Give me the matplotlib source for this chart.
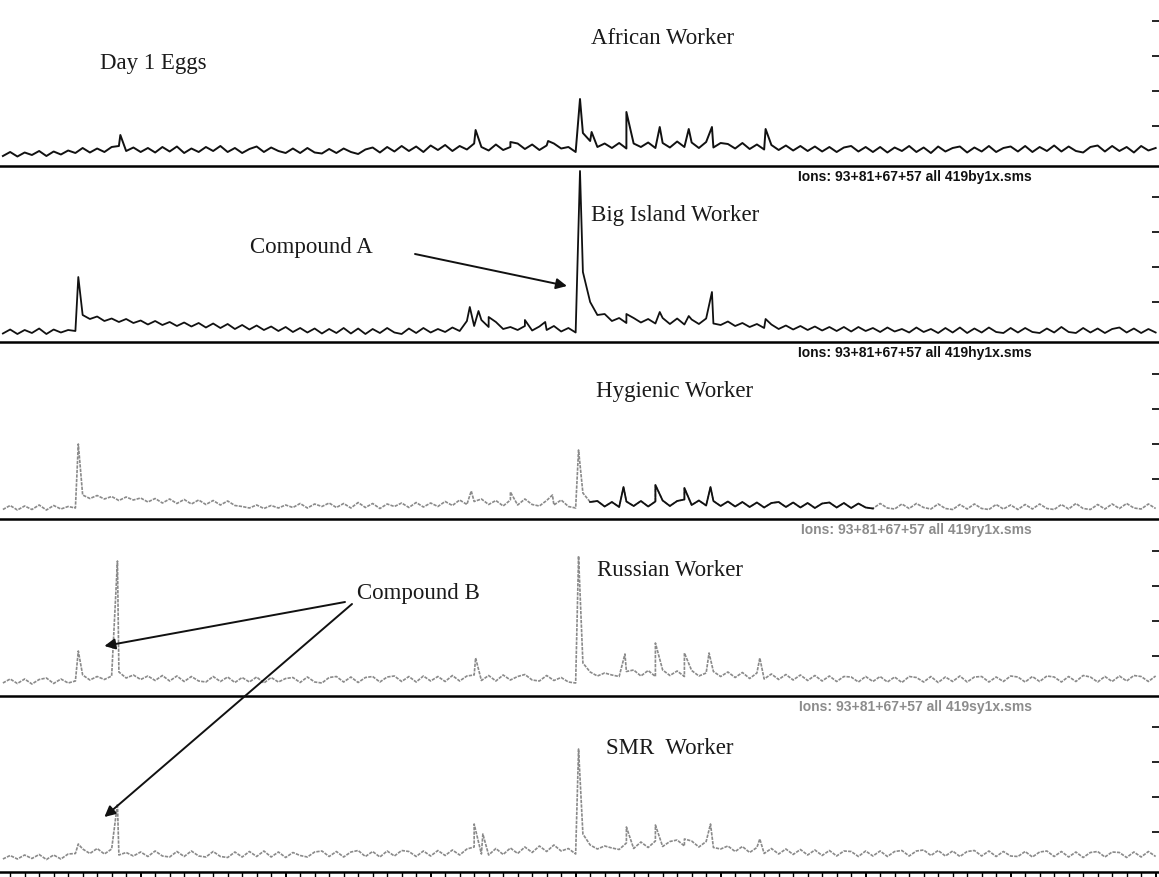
import numpy as np
import matplotlib
matplotlib.use('Agg')
import matplotlib.pyplot as plt

plt.rcParams['font.family'] = ['Liberation Serif', 'DejaVu Serif']

# retention time grid (min) for the baseline readings
rt_start = 4.05
rt_step = 0.05
n_pts = 160

# ---- African worker ----
african_base = [
    100, 140, 95, 135, 110, 150, 100, 145, 115, 155, 130, 180, 135, 175, 140, 190, 200, 150, 185, 140,
    180, 135, 190, 145, 195, 130, 175, 140, 190, 150, 200, 140, 180, 130, 170, 195, 140, 185, 150, 130,
    175, 130, 180, 135, 125, 170, 130, 175, 140, 120, 165, 185, 135, 190, 145, 200, 150, 195, 140, 205,
    160, 210, 150, 200, 165, 225, 190, 155, 215, 160, 190, 225, 170, 215, 160, 205, 225, 175, 190, 140,
    330, 250, 190, 225, 180, 230, 175, 225, 190, 235, 180, 230, 185, 245, 190, 235, 180, 240, 185, 230,
    220, 175, 230, 170, 215, 165, 210, 160, 205, 155, 200, 150, 195, 145, 190, 140, 185, 200, 145, 190,
    140, 190, 135, 185, 150, 200, 140, 185, 130, 195, 145, 180, 195, 135, 185, 145, 200, 140, 180, 195,
    145, 200, 140, 190, 150, 205, 145, 195, 150, 135, 190, 205, 145, 200, 150, 190, 135, 200, 155, 180]
african_peak_rt = [4.86, 7.31, 7.55, 7.81, 8.03, 8.11, 8.35, 8.58, 8.78, 8.94, 9.31]
african_peak_h = [310, 360, 240, 250, 670, 340, 540, 390, 370, 390, 370]

# ---- Big Island worker ----
bigisland_base = [
    85, 125, 80, 120, 90, 135, 80, 125, 95, 120, 110, 270, 230, 255, 210, 235, 200, 230, 190, 215,
    175, 210, 170, 200, 160, 195, 155, 190, 145, 185, 140, 180, 130, 170, 125, 165, 120, 155, 110, 150,
    100, 140, 95, 135, 85, 130, 90, 140, 85, 135, 80, 130, 90, 140, 95, 80, 135, 90, 140, 95,
    130, 100, 145, 110, 210, 160, 220, 150, 200, 130, 150, 120, 160, 115, 155, 120, 160, 105, 140, 95,
    700, 400, 270, 280, 210, 240, 190, 240, 195, 230, 185, 240, 180, 235, 175, 225, 180, 235, 185, 170,
    205, 160, 190, 150, 180, 140, 175, 130, 165, 125, 160, 120, 155, 115, 150, 110, 150, 105, 150, 110,
    140, 100, 145, 105, 130, 95, 145, 100, 130, 90, 140, 95, 145, 90, 135, 95, 145, 100, 90, 140,
    95, 140, 100, 90, 135, 95, 150, 100, 90, 140, 95, 135, 90, 130, 145, 95, 135, 90, 130, 95]
bigisland_peak_rt = [4.57, 7.27, 7.33, 7.40, 7.65, 7.79, 8.03, 8.15, 8.35, 8.58, 8.78, 8.94, 9.31]
bigisland_peak_h = [650, 350, 310, 250, 220, 200, 1710, 270, 280, 300, 260, 500, 230]

# ---- Hygienic worker ----
hygienic_base = [
    95, 135, 90, 130, 95, 140, 90, 135, 100, 125, 110, 240, 205, 235, 200, 225, 185, 220, 190, 210,
    170, 205, 160, 200, 155, 195, 150, 190, 145, 185, 140, 180, 135, 125, 110, 140, 105, 135, 110, 140,
    115, 155, 110, 150, 125, 160, 115, 155, 110, 165, 115, 155, 105, 150, 125, 160, 115, 165, 120, 160,
    125, 175, 135, 190, 145, 175, 200, 145, 185, 130, 190, 140, 200, 145, 130, 185, 140, 190, 125, 110,
    260, 170, 180, 125, 170, 120, 175, 130, 180, 125, 175, 185, 130, 180, 195, 140, 185, 135, 180, 130,
    175, 125, 170, 120, 165, 115, 160, 170, 120, 165, 115, 160, 110, 155, 165, 115, 160, 110, 155, 115,
    105, 155, 110, 100, 150, 105, 155, 115, 100, 150, 105, 95, 145, 100, 150, 105, 95, 145, 100, 140,
    95, 145, 100, 150, 105, 95, 145, 100, 155, 105, 95, 145, 100, 150, 105, 155, 110, 100, 150, 105]
hygienic_peak_rt = [4.57, 7.28, 7.55, 7.84, 8.02, 8.33, 8.55, 8.75, 8.93]
hygienic_peak_h = [750, 280, 270, 240, 690, 320, 340, 310, 320]
hygienic_dark_rt = (8.10, 10.10)   # part of the trace printed dark

# ---- Russian worker ----
russian_base = [
    130, 170, 125, 170, 120, 165, 180, 125, 170, 130, 150, 210, 160, 195, 165, 200, 240, 180, 210, 165,
    200, 155, 205, 150, 200, 145, 195, 150, 140, 195, 145, 190, 135, 185, 140, 190, 130, 185, 140, 175,
    185, 135, 190, 140, 130, 185, 195, 140, 190, 135, 185, 195, 140, 190, 200, 145, 195, 140, 200, 150,
    195, 145, 205, 150, 200, 210, 155, 205, 150, 210, 160, 195, 215, 160, 150, 205, 155, 185, 140, 130,
    330, 240, 200, 230, 210, 195, 245, 260, 200, 255, 195, 260, 205, 250, 195, 255, 200, 230, 245, 195,
    240, 185, 235, 175, 230, 170, 220, 165, 215, 160, 210, 155, 205, 150, 200, 145, 195, 190, 140, 195,
    145, 195, 140, 190, 135, 195, 185, 140, 195, 135, 190, 145, 200, 140, 190, 195, 140, 190, 145, 200,
    190, 140, 195, 145, 200, 190, 140, 195, 145, 205, 190, 140, 195, 145, 200, 150, 205, 195, 145, 200]
russian_peak_rt = [4.57, 4.84, 7.31, 8.02, 8.34, 8.55, 8.75, 8.92, 9.27]
russian_peak_h = [450, 1350, 380, 1400, 420, 530, 430, 430, 380]

# ---- SMR worker ----
smr_base = [
    130, 165, 130, 170, 135, 175, 125, 170, 130, 180, 185, 230, 185, 235, 180, 230, 170, 195, 160, 200,
    155, 210, 160, 150, 205, 155, 210, 160, 150, 205, 155, 145, 200, 150, 205, 155, 210, 150, 200, 145,
    195, 165, 150, 200, 210, 155, 205, 150, 200, 215, 155, 205, 150, 210, 160, 215, 205, 155, 210, 160,
    215, 165, 220, 170, 230, 250, 180, 170, 235, 175, 240, 185, 250, 195, 260, 205, 270, 210, 235, 180,
    380, 270, 230, 260, 240, 225, 290, 235, 300, 245, 310, 255, 305, 320, 260, 310, 250, 305, 245, 230,
    260, 205, 255, 195, 245, 185, 235, 180, 230, 175, 225, 170, 220, 165, 215, 160, 210, 205, 155, 210,
    160, 210, 155, 205, 215, 160, 210, 220, 165, 215, 160, 210, 155, 205, 215, 160, 210, 155, 205, 160,
    155, 205, 150, 200, 210, 155, 205, 150, 200, 145, 195, 205, 150, 200, 195, 145, 200, 150, 205, 155]
smr_peak_rt = [4.57, 4.84, 7.30, 7.36, 8.02, 8.35, 8.55, 8.75, 8.93, 9.27]
smr_peak_h = [280, 680, 480, 380, 1230, 450, 470, 330, 480, 330]

titles = ['African Worker', 'Big Island Worker', 'Hygienic Worker', 'Russian Worker', 'SMR  Worker']
ion_files = ['Ions: 93+81+67+57 all 419by1x.sms', 'Ions: 93+81+67+57 all 419hy1x.sms',
             'Ions: 93+81+67+57 all 419ry1x.sms', 'Ions: 93+81+67+57 all 419sy1x.sms']
compound_a_rt, compound_b_rt = 8.03, 4.84

rt = rt_start + rt_step * np.arange(n_pts)


def trace(base, peak_rt, peak_h):
    t = np.concatenate([rt, peak_rt])
    y = np.concatenate([base, peak_h])
    order = np.argsort(t, kind='stable')
    return t[order], y[order]


W, H = 1159, 878
fig = plt.figure(figsize=(W / 100, H / 100), dpi=100)

panel_h = 176
lines_y = [167, 343, 520, 697, 873]   # pixel row of each panel's base line
axes = []
for ly in lines_y:
    ax = fig.add_axes([0, (H - ly) / H, 1, panel_h / H])
    ax.set_xlim(4.03, 4.03 + W / 145)
    ax.set_ylim(0, 1760)
    for s in ['top', 'left', 'right']:
        ax.spines[s].set_visible(False)
    ax.spines['bottom'].set_linewidth(1.8)
    ax.yaxis.tick_right()
    ax.set_yticks([400, 750, 1100, 1450])
    ax.tick_params(axis='y', direction='in', length=5, width=1.2, labelright=False, pad=0)
    ax.set_xticks([])
    ax.patch.set_alpha(0)
    axes.append(ax)

black = '#111111'
gray = '#8a8a8a'
speckle = (0, (2, 0.7))

t, y = trace(african_base, african_peak_rt, african_peak_h)
axes[0].plot(t, y, color=black, lw=1.4)

t, y = trace(bigisland_base, bigisland_peak_rt, bigisland_peak_h)
axes[1].plot(t, y, color=black, lw=1.3)

t, y = trace(hygienic_base, hygienic_peak_rt, hygienic_peak_h)
axes[2].plot(t, y, color=gray, lw=1.2, ls=speckle)
dark = np.ma.masked_where((t < hygienic_dark_rt[0]) | (t > hygienic_dark_rt[1]), y)
axes[2].plot(t, dark, color=black, lw=1.3)

t, y = trace(russian_base, russian_peak_rt, russian_peak_h)
axes[3].plot(t, y, color=gray, lw=1.2, ls=speckle)

t, y = trace(smr_base, smr_peak_rt, smr_peak_h)
axes[4].plot(t, y, color=gray, lw=1.2, ls=speckle)

# bottom time axis
ax = axes[4]
ax.set_xticks(np.arange(5, 13))
ax.set_xticks(np.arange(4.1, 12.0, 0.1), minor=True)
ax.tick_params(axis='x', which='major', direction='out', length=6, width=1.4, labelbottom=False)
ax.tick_params(axis='x', which='minor', direction='out', length=5, width=1.0)

# titles
title_pos = [(591, 38), (591, 215), (596, 392), (597, 570), (606, 748)]
for (px, py), txt in zip(title_pos, titles):
    fig.text(px / W, 1 - py / H, txt, fontsize=16.5, va='center', ha='left', color='#1a1a1a')
fig.text(100 / W, 1 - 63 / H, 'Day 1 Eggs', fontsize=16.5, va='center', ha='left', color='#1a1a1a')

# ion captions under each separator line
for i, txt in enumerate(ion_files):
    col = '#111111' if i < 2 else '#8c8c8c'
    fig.text(1032 / W, 1 - (lines_y[i] + 10) / H, txt, fontsize=10, fontweight='bold',
             family=['Liberation Sans', 'DejaVu Sans'], color=col, ha='right', va='center')

# compound annotations
arrow = dict(arrowstyle='-|>', color='#111111', lw=1.4, mutation_scale=16, shrinkA=0, shrinkB=0)
fig.text(250 / W, 1 - 247 / H, 'Compound A', fontsize=16.5, va='center', ha='left', color='#1a1a1a')
axes[1].annotate('', xy=(compound_a_rt - 0.09, 560), xycoords='data',
                 xytext=(415 / W, 1 - 255 / H), textcoords='figure fraction', arrowprops=arrow)
fig.text(357 / W, 1 - 593 / H, 'Compound B', fontsize=16.5, va='center', ha='left', color='#1a1a1a')
axes[3].annotate('', xy=(compound_b_rt - 0.09, 500), xycoords='data',
                 xytext=(345 / W, 1 - 603 / H), textcoords='figure fraction', arrowprops=arrow)
axes[4].annotate('', xy=(compound_b_rt - 0.09, 550), xycoords='data',
                 xytext=(352 / W, 1 - 605 / H), textcoords='figure fraction', arrowprops=arrow)

fig.savefig('out.png', dpi=100)
